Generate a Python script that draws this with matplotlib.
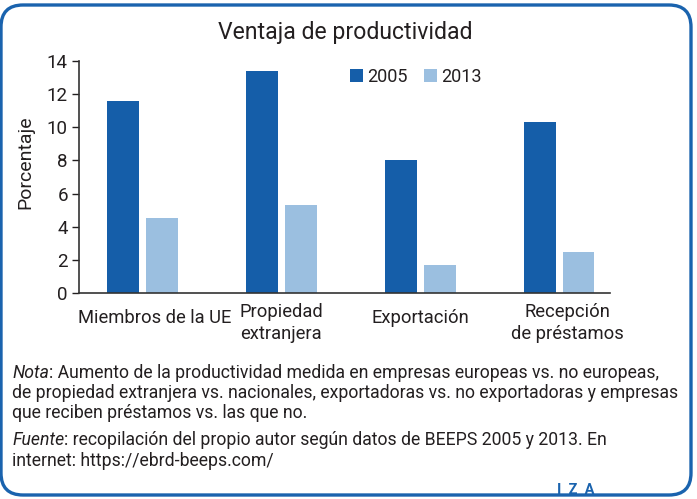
import matplotlib
matplotlib.use("Agg")
import matplotlib.pyplot as plt
from matplotlib.patches import FancyBboxPatch
import matplotlib.transforms as mtransforms
import numpy as np

plt.rcParams['font.family'] = ['Roboto', 'DejaVu Sans']

# Data
categories = ["Miembros de la UE", "Propiedad\nextranjera", "Exportación", "Recepción\nde préstamos"]
series_names = ["2005", "2013"]
values_2005 = [11.6, 13.4, 8.0, 10.3]
values_2013 = [4.5, 5.3, 1.7, 2.5]

blue_dark = "#155EA9"
blue_light = "#9BBFE0"
frame_blue = "#1A63AE"
text_color = "#231F20"

fig = plt.figure(figsize=(6.97, 4.99), dpi=100)

# Rounded frame in pixel coordinates
bg = fig.add_axes([0, 0, 1, 1])
bg.set_xlim(0, 697)
bg.set_ylim(499, 0)
bg.axis("off")
bg.add_patch(FancyBboxPatch((1, 5), 690, 490, boxstyle="round,pad=0,rounding_size=22",
                            fill=False, edgecolor=frame_blue, linewidth=2.4))

ax = fig.add_axes([79 / 697, 206 / 499, 531 / 697, 232 / 499])
x = np.arange(len(categories))
w = 0.23
ax.bar(x - 0.14, values_2005, width=w, color=blue_dark, label=series_names[0])
ax.bar(x + 0.14, values_2013, width=w, color=blue_light, label=series_names[1])

ax.set_xlim(-0.457, 3.367)
ax.set_ylim(0, 14)
ax.set_yticks(range(0, 15, 2))
ax.set_xticks([])
ax.tick_params(axis="y", length=5, width=1, labelsize=13.5, colors=text_color, pad=3)
for s in ["top", "right"]:
    ax.spines[s].set_visible(False)
for s in ["left", "bottom"]:
    ax.spines[s].set_color("#333333")
    ax.spines[s].set_linewidth(1.2)

def yf(py):
    return 1 - py / 499

fig.text(25 / 697, yf(162), "Porcentaje", rotation=90, ha="center", va="center",
         fontsize=14, color=text_color)

# category labels (Excel-like placement)
label_dx = [0.09, 0.0, 0.0, 0.06]
trans = mtransforms.blended_transform_factory(ax.transData, fig.transFigure)
for xi, lab, dx in zip(x, categories, label_dx):
    ypix = 323 if "\n" in lab else 318
    ax.text(xi + dx, yf(ypix), lab, transform=trans, ha="center", va="center",
            fontsize=13.2, color=text_color, linespacing=1.3)

ax.legend(loc="center", bbox_to_anchor=(0.635, 0.931), ncol=2, frameon=False,
          handlelength=0.7, handleheight=0.7, handletextpad=0.25, columnspacing=0.9,
          fontsize=13, labelcolor=text_color, borderaxespad=0)

fig.text(345 / 697, yf(33), "Ventaja de productividad", ha="center", va="center",
         fontsize=16.6, color=text_color)

# Notes
fs = 12.7
fig.canvas.draw()
r = fig.canvas.get_renderer()
t1 = fig.text(12 / 697, yf(373), "Nota", style="italic", fontsize=fs, color=text_color, va="center")
bb = t1.get_window_extent(renderer=r)
fig.text(bb.x1 / 697, yf(373), ": Aumento de la productividad medida en empresas europeas vs. no europeas,",
         fontsize=fs, color=text_color, va="center")
fig.text(12 / 697, yf(393), "de propiedad extranjera vs. nacionales, exportadoras vs. no exportadoras y empresas",
         fontsize=fs, color=text_color, va="center")
fig.text(12 / 697, yf(413), "que reciben préstamos vs. las que no.", fontsize=fs, color=text_color, va="center")
t2 = fig.text(12 / 697, yf(440), "Fuente", style="italic", fontsize=fs, color=text_color, va="center")
bb = t2.get_window_extent(renderer=r)
fig.text(bb.x1 / 697, yf(440), ": recopilación del propio autor según datos de BEEPS 2005 y 2013. En",
         fontsize=fs, color=text_color, va="center")
fig.text(12 / 697, yf(461), "internet: https://ebrd-beeps.com/", fontsize=fs, color=text_color, va="center")

fig.text(576 / 697, yf(490), "I  Z  A", ha="center", va="center", fontsize=10.5,
         fontweight="bold", color=frame_blue)

fig.savefig("out.png", dpi=100)
